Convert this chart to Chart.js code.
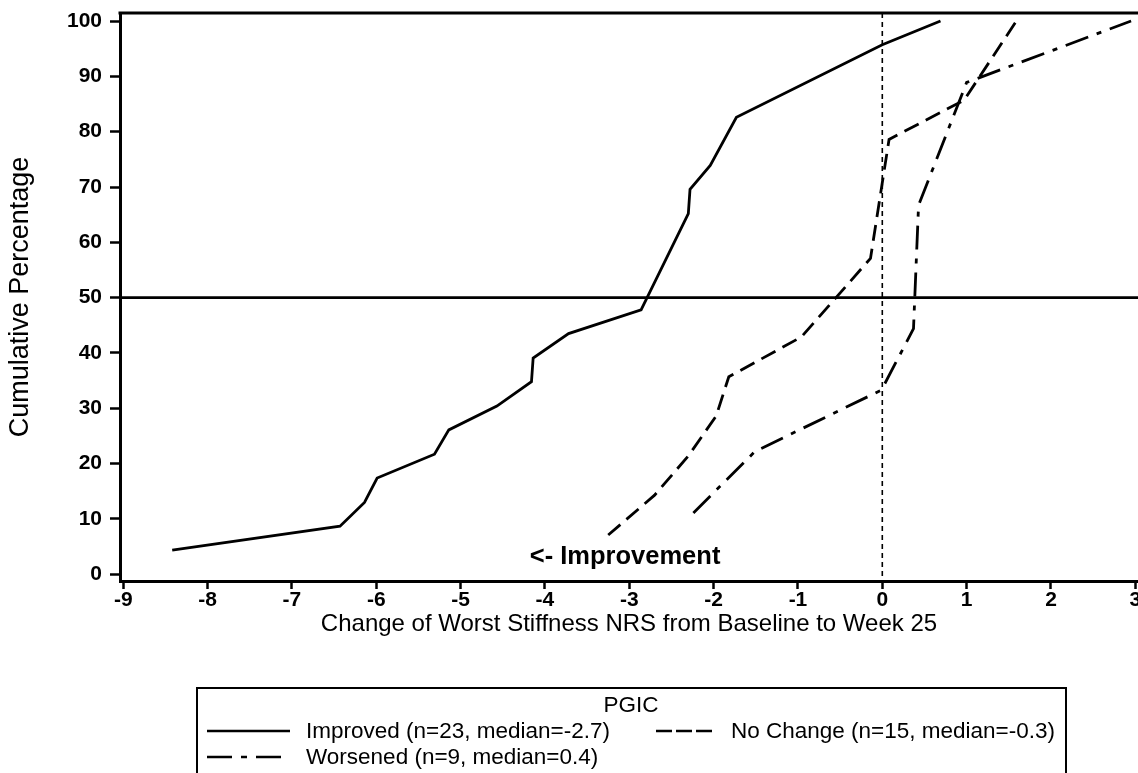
<!DOCTYPE html>
<html>
<head>
<meta charset="utf-8">
<script src="https://cdn.jsdelivr.net/npm/chart.js@4.4.1/dist/chart.umd.min.js"></script>
<style>
  html, body { margin: 0; padding: 0; background: #fff; }
  canvas { display: block; }
</style>
</head>
<body>
<canvas id="c" width="1138" height="773"></canvas>
<script>
// ---- data ----
const improvedX = [-8.42, -6.43, -6.14, -5.99, -5.31, -5.14, -4.57, -4.16, -4.14, -3.72, -2.86, -2.30, -2.28, -2.04, -1.73, 0.00, 0.69];
const improvedY = [4.35, 8.7, 13.0, 17.4, 21.7, 26.1, 30.4, 34.8, 39.1, 43.5, 47.8, 65.2, 69.6, 73.9, 82.6, 95.7, 100];
const noChangeX = [-3.25, -2.70, -2.30, -1.97, -1.82, -0.96, -0.14, 0.08, 0.97, 1.59];
const noChangeY = [7.1, 14.3, 21.4, 28.6, 35.7, 42.9, 57.1, 78.6, 85.7, 100];
const worsenedX = [-2.24, -1.51, -0.01, 0.37, 0.43, 1.00, 2.95];
const worsenedY = [11.1, 22.2, 33.3, 44.4, 66.7, 88.9, 100];

const seriesLabels = ['Improved (n=23, median=-2.7)', 'No Change (n=15, median=-0.3)', 'Worsened (n=9, median=0.4)'];
const legendTitle = 'PGIC';
const xTickValues = [-9, -8, -7, -6, -5, -4, -3, -2, -1, 0, 1, 2, 3];
const yTickValues = [0, 10, 20, 30, 40, 50, 60, 70, 80, 90, 100];
const xTitle = 'Change of Worst Stiffness NRS from Baseline to Week 25';
const yTitle = 'Cumulative Percentage';
const refY = 50;
const refX = 0;
const noteText = '<- Improvement';
const noteX = -3.05;
const noteY = 3.1;

const toPts = (xs, ys) => xs.map((x, i) => ({ x: x, y: ys[i] }));

const FONT = '"Liberation Sans", Arial, Helvetica, sans-serif';
Chart.defaults.color = '#000';
Chart.defaults.font.family = FONT;

const refLines = {
  id: 'refLines',
  beforeDatasetsDraw(chart) {
    const { ctx, chartArea: a, scales: { x, y } } = chart;
    ctx.save();
    ctx.strokeStyle = '#000';
    const py = y.getPixelForValue(refY);
    ctx.lineWidth = 2.6;
    ctx.setLineDash([]);
    ctx.beginPath(); ctx.moveTo(a.left, py); ctx.lineTo(a.right, py); ctx.stroke();
    const px = x.getPixelForValue(refX);
    ctx.lineWidth = 1.6;
    ctx.setLineDash([5, 4]);
    ctx.beginPath(); ctx.moveTo(px, a.top); ctx.lineTo(px, a.bottom); ctx.stroke();
    ctx.restore();
  },
  afterDraw(chart) {
    const { ctx, chartArea: a, scales: { x, y } } = chart;
    ctx.save();
    ctx.strokeStyle = '#000';
    ctx.lineWidth = 3;
    ctx.beginPath(); ctx.moveTo(a.left - 1.5, a.top); ctx.lineTo(chart.width, a.top); ctx.stroke();
    ctx.fillStyle = '#000';
    ctx.font = 'bold 25.5px ' + FONT;
    ctx.textAlign = 'center';
    ctx.textBaseline = 'middle';
    ctx.fillText(noteText, x.getPixelForValue(noteX), y.getPixelForValue(noteY));

    const bx = 197, by = 688, bw = 869;
    ctx.lineWidth = 2;
    ctx.strokeRect(bx, by, bw, 120);
    ctx.font = '22.5px ' + FONT;
    ctx.textAlign = 'center';
    ctx.fillText(legendTitle, 631, 706);
    ctx.textAlign = 'left';
    const items = [
      { ds: 0, x0: 207, x1: 290, tx: 306, ty: 731, dash: [] },
      { ds: 1, x0: 656, x1: 712, tx: 731, ty: 731, dash: [16, 4] },
      { ds: 2, x0: 207, x1: 290, tx: 306, ty: 757, dash: [25, 9, 6, 9] }
    ];
    items.forEach(it => {
      const d = chart.data.datasets[it.ds];
      ctx.lineWidth = 2.5;
      ctx.setLineDash(it.dash);
      ctx.beginPath(); ctx.moveTo(it.x0, it.ty); ctx.lineTo(it.x1, it.ty); ctx.stroke();
      ctx.setLineDash([]);
      ctx.fillText(d.label, it.tx, it.ty + 1);
    });
    ctx.restore();
  }
};

new Chart(document.getElementById('c'), {
  type: 'scatter',
  data: {
    datasets: [
      { label: seriesLabels[0], data: toPts(improvedX, improvedY), borderDash: [] },
      { label: seriesLabels[1], data: toPts(noChangeX, noChangeY), borderDash: [16, 8] },
      { label: seriesLabels[2], data: toPts(worsenedX, worsenedY), borderDash: [24, 9, 5, 9] }
    ].map(d => Object.assign(d, {
      showLine: true, borderColor: '#000', backgroundColor: '#000', borderWidth: 2.8,
      pointRadius: 0, pointHoverRadius: 0, tension: 0, fill: false
    }))
  },
  options: {
    responsive: false,
    animation: false,
    events: [],
    layout: { padding: { top: 13, right: 0, left: 0, bottom: 0 } },
    plugins: { legend: { display: false }, tooltip: { enabled: false } },
    scales: {
      x: {
        type: 'linear', position: 'bottom',
        min: -9.039, max: 3.032,
        afterBuildTicks: s => { s.ticks = xTickValues.map(v => ({ value: v })); },
        afterFit: s => { s.height = 192; s.paddingLeft = 0; s.paddingRight = 0; },
        grid: { drawOnChartArea: false, drawTicks: true, tickLength: 8, tickWidth: 2.5, tickColor: '#000', color: '#000' },
        border: { display: true, color: '#000', width: 3 },
        ticks: { font: { size: 21, weight: 'bold' }, padding: -1, maxRotation: 0, autoSkip: false, callback: v => String(v) },
        title: { display: true, text: xTitle, font: { size: 24 }, padding: { top: 0, bottom: 134 } }
      },
      y: {
        type: 'linear', position: 'left',
        min: -1.21, max: 101.45,
        afterBuildTicks: s => { s.ticks = yTickValues.map(v => ({ value: v })); },
        afterFit: s => { s.width = 120; s.paddingTop = 0; s.paddingBottom = 0; },
        grid: { drawOnChartArea: false, drawTicks: true, tickLength: 10, tickWidth: 2.5, tickColor: '#000', color: '#000' },
        border: { display: true, color: '#000', width: 3 },
        ticks: { font: { size: 21, weight: 'bold' }, padding: 8, autoSkip: false, callback: v => String(v) },
        title: { display: true, text: yTitle, font: { size: 27 }, padding: { top: 4, bottom: 0 } }
      }
    }
  },
  plugins: [refLines]
});
</script>
</body>
</html>
